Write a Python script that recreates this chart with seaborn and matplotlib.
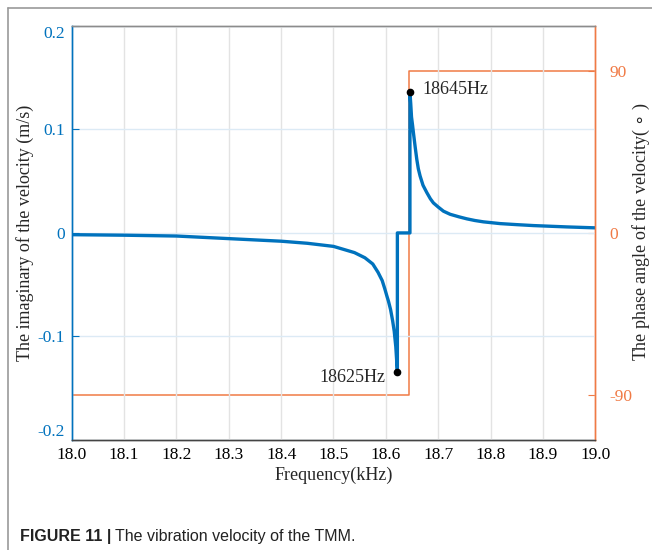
"""Velocidad de vibracion del TMM: parte imaginaria y angulo de fase."""

import matplotlib

matplotlib.use("Agg")
import matplotlib.pyplot as plt
import pandas as pd
import seaborn as sns
from matplotlib.lines import Line2D

sns.set_style("white")
plt.rcParams["font.family"] = ["Liberation Serif", "DejaVu Serif"]
plt.rcParams["axes.unicode_minus"] = False

BLUE = "#0072BD"
ORANGE = "#F07A45"

# parte imaginaria de la velocidad (m/s)
freq_khz = [18.0, 18.1, 18.2, 18.3, 18.4, 18.45, 18.5, 18.54, 18.56, 18.575,
            18.585, 18.593, 18.598, 18.602, 18.605, 18.609, 18.613, 18.616,
            18.619, 18.6205, 18.622,
            18.622, 18.646, 18.646,
            18.6475, 18.649, 18.651, 18.6526, 18.656, 18.6591, 18.662,
            18.6654, 18.671, 18.6782, 18.685, 18.6908, 18.70, 18.710,
            18.7228, 18.74, 18.7547, 18.77, 18.7864, 18.8184, 18.85,
            18.882, 18.946, 19.0]
imag_vel = [-0.0017, -0.0022, -0.003, -0.0055, -0.008, -0.010, -0.013,
            -0.019, -0.024, -0.030, -0.038, -0.046, -0.054, -0.061, -0.066,
            -0.074, -0.085, -0.095, -0.110, -0.122, -0.134,
            0.0, 0.0, 0.136,
            0.125, 0.112, 0.104, 0.097, 0.083, 0.071, 0.062,
            0.055, 0.046, 0.039, 0.033, 0.029, 0.025, 0.021,
            0.018, 0.0155, 0.0136, 0.012, 0.0107, 0.009, 0.008,
            0.0071, 0.0058, 0.0049]

# angulo de fase (grados)
phase_freq = [18.0, 18.645, 18.645, 19.0]
phase_deg = [-90, -90, 90, 90]

x_ticks = [18.0, 18.1, 18.2, 18.3, 18.4, 18.5, 18.6, 18.7, 18.8, 18.9, 19.0]
left_ticks = [-0.2, -0.1, 0, 0.1, 0.2]
left_labels = ["-0.2", "-0.1", "0", "0.1", "0.2"]
right_ticks = [-90, 0, 90]

dip = (18.622, -0.134, "18625Hz")
peak = (18.646, 0.136, "18645Hz")

vel = pd.DataFrame({"f": freq_khz, "v": imag_vel})
ph = pd.DataFrame({"f": phase_freq, "p": phase_deg})

fig = plt.figure(figsize=(6.52, 5.5), dpi=100)
ax = fig.add_axes([0.110, 0.200, 0.803, 0.753])
ax2 = ax.twinx()

# rejilla
ax.set_xticks(x_ticks)
ax.set_xticklabels([f"{t:.1f}" for t in x_ticks])
ax.grid(True, axis="x", color="#E3E3E3", linewidth=1.0)
ax.grid(True, axis="y", color="#DCEAF5", linewidth=1.0)
ax.set_axisbelow(True)

sns.lineplot(data=ph, x="f", y="p", ax=ax2, color=ORANGE, linewidth=1.1,
             estimator=None, sort=False)
sns.lineplot(data=vel, x="f", y="v", ax=ax, color=BLUE, linewidth=2.4,
             estimator=None, sort=False)

# el eje izquierdo encima del derecho para que la curva azul quede delante
ax.set_zorder(ax2.get_zorder() + 1)
ax.patch.set_visible(False)

ax.plot([dip[0], peak[0]], [dip[1], peak[1]], "o", color="black",
        markersize=4.5, linestyle="none")
ax.text(dip[0] - 0.023, dip[1] - 0.006, dip[2], ha="right", va="center",
        fontsize=13)
ax.text(peak[0] + 0.023, peak[1] + 0.003, peak[2], ha="left", va="center",
        fontsize=13)

ax.set_xlim(18.0, 19.0)
ax.set_ylim(-0.2, 0.2)
ax2.set_ylim(-115, 115)

ax.set_yticks(left_ticks)
ax.set_yticklabels(left_labels)
ylabels = ax.get_yticklabels()
ylabels[0].set_va("bottom")
ylabels[-1].set_va("top")
ax2.set_yticks(right_ticks)

ax.tick_params(axis="x", direction="in", length=5, colors="#333333",
               labelcolor="black", labelsize=12.5, pad=5)
ax.tick_params(axis="y", direction="in", length=5, colors=BLUE,
               labelsize=12.5, pad=5)
ax2.tick_params(axis="y", direction="in", length=5, colors=ORANGE,
                labelsize=12.5, pad=10)

for a in (ax, ax2):
    a.spines["top"].set_color("#8C8C8C")
    a.spines["bottom"].set_color("#444444")
    a.spines["left"].set_color(BLUE)
    a.spines["right"].set_color(ORANGE)
    for s in a.spines.values():
        s.set_linewidth(1.0)

ax.set_xlabel("Frequency(kHz)", fontsize=13, labelpad=3)
ax.set_ylabel("The imaginary of the velocity (m/s)", fontsize=13)
ax.yaxis.set_label_coords(-0.072, 0.5)
ax2.set_ylabel("")
fig.text(641 / 652, 1 - 232 / 550, "The phase angle of the velocity( $\\circ$ )",
         fontsize=13, rotation=90, ha="center", va="center")

# marco de la pagina
fig.add_artist(Line2D([8 / 652, 1.0], [1 - 8 / 550, 1 - 8 / 550],
                      color="#999999", linewidth=1.2))
fig.add_artist(Line2D([8 / 652, 8 / 652], [0.0, 1 - 8 / 550],
                      color="#999999", linewidth=1.2))

# pie de figura
cap_font = ["Liberation Sans", "DejaVu Sans"]
t1 = fig.text(20 / 652, 1 - 537 / 550, "FIGURE 11 |", family=cap_font,
              fontweight="bold", fontsize=11.5, va="center", ha="left",
              color="#222222")
fig.canvas.draw()
bb = t1.get_window_extent()
fig.text(bb.x1 / fig.bbox.width + 4 / 652, 1 - 537 / 550,
         "The vibration velocity of the TMM.", family=cap_font,
         fontsize=11.5, va="center", ha="left", color="#222222")

fig.savefig("out.png", dpi=100)
